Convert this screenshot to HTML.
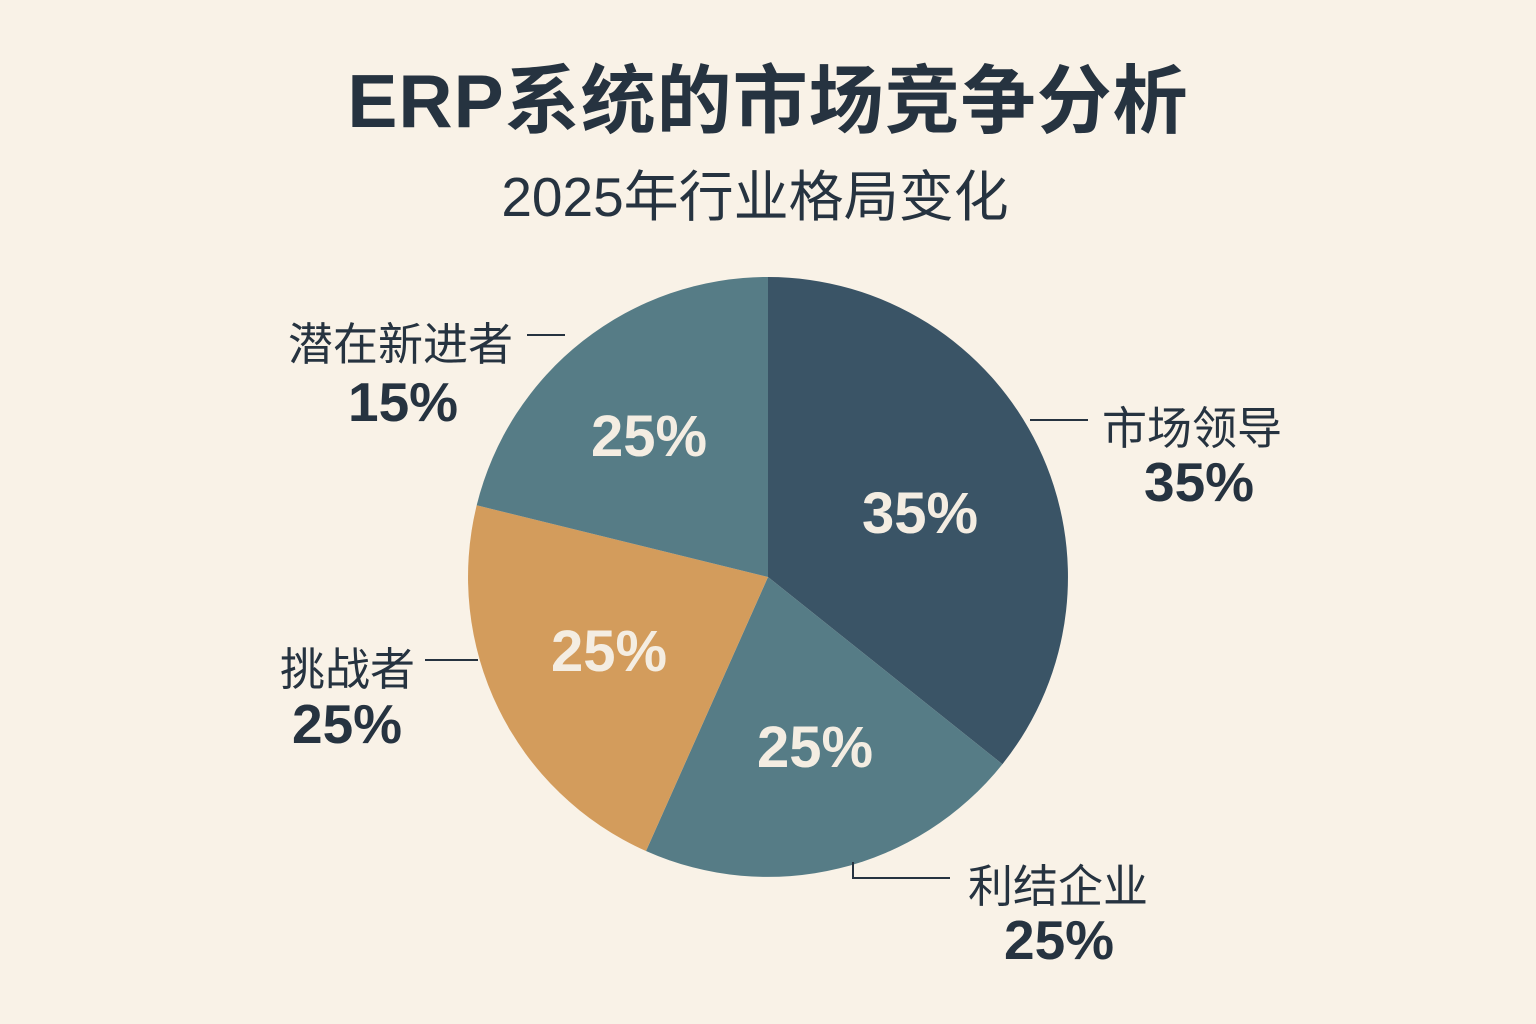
<!DOCTYPE html>
<html><head><meta charset="utf-8"><style>
html,body{margin:0;padding:0;background:#f9f2e7;}
body{width:1536px;height:1024px;position:relative;overflow:hidden;font-family:"Liberation Sans","Noto Sans CJK SC",sans-serif;color:#263340;}
.t{position:absolute;white-space:nowrap;}
</style></head><body>
<svg width="1536" height="1024" style="position:absolute;left:0;top:0">
<g transform="translate(768,577)">
<path d="M0,0 L0,-300 A300,300 0 0 1 234.4,187.2 Z" fill="#3a5466"/>
<path d="M0,0 L234.4,187.2 A300,300 0 0 1 -122,274 Z" fill="#567c86"/>
<path d="M0,0 L-122,274 A300,300 0 0 1 -291.3,-71.7 Z" fill="#d39c5c"/>
<path d="M0,0 L-291.3,-71.7 A300,300 0 0 1 0,-300 Z" fill="#567c86"/>
</g>
<g stroke="#263340" stroke-width="2" fill="none">
<line x1="1030" y1="420" x2="1088" y2="420"/>
<line x1="527" y1="335" x2="565" y2="335"/>
<line x1="425" y1="660" x2="478" y2="660"/>
<polyline points="853,862 853,878 950,878"/>
</g>
</svg>
<div class="t" style="left:0;width:1536px;text-align:center;top:56px;font-size:75px;font-weight:bold;line-height:90px;letter-spacing:1px">ERP系统的市场竞争分析</div>
<div class="t" style="left:0;width:1510px;text-align:center;top:166px;font-size:55px;line-height:62px">2025年行业格局变化</div>
<div class="t" style="left:862px;top:480px;font-size:58px;font-weight:bold;color:#f4ede2">35%</div>
<div class="t" style="left:591px;top:403px;font-size:58px;font-weight:bold;color:#f4ede2">25%</div>
<div class="t" style="left:551px;top:618px;font-size:58px;font-weight:bold;color:#f4ede2">25%</div>
<div class="t" style="left:757px;top:714px;font-size:58px;font-weight:bold;color:#f4ede2">25%</div>
<div class="t" style="left:1102px;top:392px;font-size:45px">市场领导</div>
<div class="t" style="left:1144px;top:450px;font-size:55px;font-weight:bold">35%</div>
<div class="t" style="left:288px;top:308px;font-size:45px">潜在新进者</div>
<div class="t" style="left:348px;top:370px;font-size:55px;font-weight:bold">15%</div>
<div class="t" style="left:280px;top:633px;font-size:45px">挑战者</div>
<div class="t" style="left:292px;top:692px;font-size:55px;font-weight:bold">25%</div>
<div class="t" style="left:968px;top:850px;font-size:45px">利结企业</div>
<div class="t" style="left:1004px;top:908px;font-size:55px;font-weight:bold">25%</div>
</body></html>
